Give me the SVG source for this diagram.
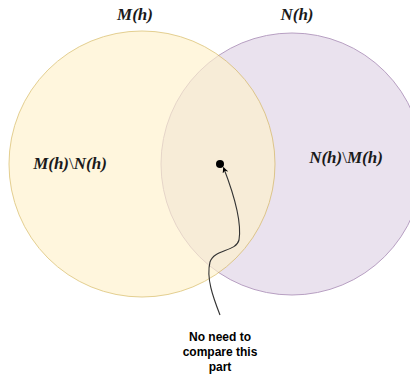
<svg xmlns="http://www.w3.org/2000/svg" width="410" height="377" viewBox="0 0 410 377">
  <style>
    .math { font-family: "Liberation Serif", "DejaVu Serif", serif; font-style: italic; font-weight: bold; font-size: 17px; fill: #1a1a1a; }
    .up { font-style: normal; font-weight: normal; }
    .note { font-family: "Liberation Sans", Arial, sans-serif; font-weight: bold; font-size: 12px; fill: #000; text-anchor: middle; }
    .conn { fill: none; stroke: #333; stroke-width: 1.1; }
  </style>
  <defs>
    <marker id="arrow" viewBox="0 0 10 10" refX="9" refY="5" markerWidth="6" markerHeight="6" orient="auto" markerUnits="userSpaceOnUse">
      <path d="M0,0 L10,5 L0,10 L3,5 Z" fill="#000"/>
    </marker>
  </defs>

  <rect width="410" height="377" fill="#ffffff"/>

  <!-- set N(h): drawn first, underneath -->
  <g id="setN">
    <circle cx="292" cy="164" r="131" fill="#e1d5e7" stroke="#9673a6" stroke-width="1" opacity="0.68"/>
    <text class="math" x="297" y="20" text-anchor="middle">N(h)</text>
  </g>

  <!-- set M(h): translucent, on top -->
  <g id="setM">
    <circle cx="142" cy="164" r="133" fill="#fff2cc" stroke="#d6b656" stroke-width="1" opacity="0.65"/>
    <text class="math" x="135" y="20" text-anchor="middle">M(h)</text>
  </g>

  <g id="diffMN">
    <text class="math" x="70" y="169" text-anchor="middle">M(h)<tspan class="up">\</tspan>N(h)</text>
  </g>

  <g id="diffNM">
    <text class="math" x="346" y="163" text-anchor="middle">N(h)<tspan class="up">\</tspan>M(h)</text>
  </g>

  <g id="note">
    <text class="note" x="220" y="341">No need to</text>
    <text class="note" x="220" y="356">compare this</text>
    <text class="note" x="220" y="371">part</text>
  </g>

  <!-- connector from the note into the intersection -->
  <g id="connectors">
    <path class="conn" d="M220,315 C213,297 206,278 210,262 C214,249 236,252 239,240 C242,222 233,192 223.5,167.5" marker-end="url(#arrow)"/>
    <circle cx="220" cy="164" r="4" fill="#000"/>
  </g>
</svg>
